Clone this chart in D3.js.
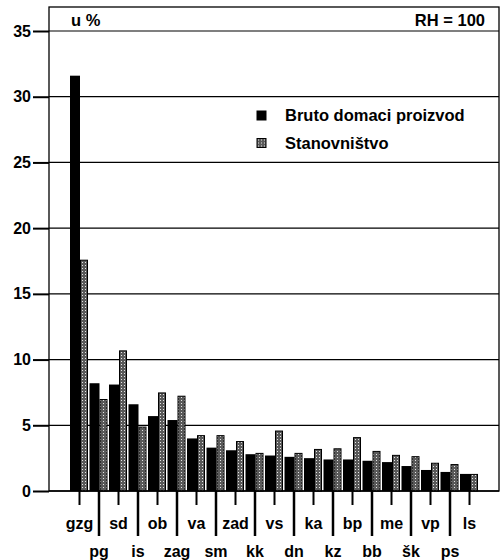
<!DOCTYPE html>
<html>
<head>
<meta charset="utf-8">
<script src="https://cdn.jsdelivr.net/npm/d3@7"></script>
<style>
  body { margin: 0; background: #fff; }
  svg { display: block; font-family: "Liberation Sans", Arial, sans-serif; font-weight: bold; }
</style>
</head>
<body>
<div class="chart"></div>
<script>
// regions (županije), in chart order
var regions = ["gzg", "pg", "sd", "is", "ob", "zag", "va", "sm", "zad", "kk", "vs",
               "dn", "ka", "kz", "bp", "bb", "me", "šk", "vp", "ps", "ls"];
// share of GDP, %
var gdp = [31.6, 8.2, 8.1, 6.6, 5.7, 5.4, 4.0, 3.3, 3.1, 2.8, 2.7,
           2.6, 2.5, 2.4, 2.4, 2.3, 2.2, 1.9, 1.6, 1.45, 1.3];
// share of population, %
var pop = [17.6, 7.0, 10.7, 4.9, 7.5, 7.25, 4.25, 4.25, 3.8, 2.9, 4.6,
           2.9, 3.2, 3.25, 4.1, 3.05, 2.75, 2.65, 2.15, 2.05, 1.3];
var yTicks = [0, 5, 10, 15, 20, 25, 30, 35];
var seriesNames = ["Bruto domaci proizvod", "Stanovništvo"];

var W = 501, H = 560;
var mLeft = 49, mRight = 499, mTop = 7;
var fs = 16;

var svg = d3.select(".chart").append("svg")
    .attr("width", W).attr("height", H);

var defs = svg.append("defs");
var pat = defs.append("pattern")
    .attr("id", "dots").attr("patternUnits", "userSpaceOnUse")
    .attr("width", 3).attr("height", 3);
pat.append("rect").attr("width", 3).attr("height", 3).attr("fill", "#5a5a5a");
pat.append("rect").attr("x", 1).attr("y", 1).attr("width", 1).attr("height", 1).attr("fill", "#e6e6e6");

var y = d3.scaleLinear().domain([0, 35]).range([491, 31]);
var x = d3.scaleBand().domain(regions).range([70, 479.5]).padding(0);

// gridlines
svg.append("g").selectAll("line")
  .data(yTicks.filter(d => d > 0))
  .join("line")
    .attr("x1", mLeft).attr("x2", mRight)
    .attr("y1", d => y(d)).attr("y2", d => y(d))
    .attr("stroke", "#000").attr("stroke-width", 1.2);

// frame
svg.append("rect")
    .attr("x", mLeft).attr("y", mTop)
    .attr("width", mRight - mLeft).attr("height", y(0) - mTop)
    .attr("fill", "none").attr("stroke", "#000").attr("stroke-width", 1.3);

// y axis
var yAxis = d3.axisLeft(y).tickValues(yTicks).tickSize(16).tickPadding(2);
var ga = svg.append("g").attr("transform", "translate(" + mLeft + ",0)").call(yAxis);
ga.select(".domain").remove();
ga.selectAll(".tick line").attr("stroke", "#000").attr("stroke-width", 2);
ga.selectAll(".tick text").attr("font-size", fs).attr("font-family", "Liberation Sans, Arial, sans-serif")
    .attr("font-weight", "bold").attr("fill", "#000");

// bars
var bw1 = 10, bw2 = 8;
svg.append("g").selectAll("rect")
  .data(regions)
  .join("rect")
    .attr("x", d => x(d))
    .attr("y", (d, i) => y(gdp[i]))
    .attr("width", bw1)
    .attr("height", (d, i) => y(0) - y(gdp[i]))
    .attr("fill", "#000");

svg.append("g").selectAll("rect")
  .data(regions)
  .join("rect")
    .attr("x", d => x(d) + bw1 + 0.5)
    .attr("y", (d, i) => y(pop[i]) + 0.5)
    .attr("width", bw2 - 1)
    .attr("height", (d, i) => y(0) - y(pop[i]) - 0.5)
    .attr("fill", "url(#dots)")
    .attr("stroke", "#000").attr("stroke-width", 1);

// zero line on top
svg.append("line")
    .attr("x1", mLeft).attr("x2", mRight)
    .attr("y1", y(0)).attr("y2", y(0))
    .attr("stroke", "#000").attr("stroke-width", 1.5);

// category ticks & labels, alternate rows
var cx = d => x(d) + 9.5;
svg.append("g").selectAll("line")
  .data(regions)
  .join("line")
    .attr("x1", cx).attr("x2", cx)
    .attr("y1", y(0)).attr("y2", (d, i) => i % 2 ? 536 : 505)
    .attr("stroke", "#000").attr("stroke-width", (d, i) => i % 2 ? 2.5 : 2);

svg.append("g").selectAll("text")
  .data(regions)
  .join("text")
    .attr("x", cx)
    .attr("y", (d, i) => i % 2 ? 557 : 529)
    .attr("text-anchor", "middle")
    .attr("font-size", fs)
    .text(d => d);

// header
svg.append("text").attr("x", 71).attr("y", 26).attr("font-size", 16.5).text("u %");
svg.append("text").attr("x", 485).attr("y", 26).attr("font-size", 16.5)
    .attr("text-anchor", "end").text("RH = 100");

// legend
var lg = svg.append("g").selectAll("g")
  .data(seriesNames)
  .join("g")
    .attr("transform", (d, i) => "translate(257," + (111 + i * 27.5) + ")");
lg.append("rect")
    .attr("width", 9).attr("height", 9)
    .attr("fill", (d, i) => i ? "url(#dots)" : "#000")
    .attr("stroke", "#000").attr("stroke-width", 1);
lg.append("text")
    .attr("x", 28).attr("y", 10)
    .attr("font-size", 16.5)
    .text(d => d);
</script>
</body>
</html>
